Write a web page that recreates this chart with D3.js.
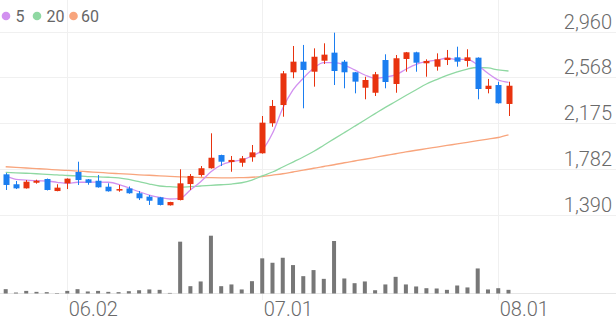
<!DOCTYPE html>
<html>
<head>
<meta charset="utf-8">
<script src="https://cdn.jsdelivr.net/npm/d3@7"></script>
<style>
body { margin: 0; background: #fff; }
text { font-family: Roboto, sans-serif; }
</style>
</head>
<body>
<svg class="chart"></svg>
<script>
var dates = ["05.23","05.26","05.27","05.28","05.29","05.30","06.02","06.04","06.05","06.09",
  "06.10","06.11","06.12","06.13","06.16","06.17","06.18","06.19","06.20","06.23",
  "06.24","06.25","06.26","06.27","06.30","07.01","07.02","07.03","07.04","07.07",
  "07.08","07.09","07.10","07.11","07.14","07.15","07.16","07.17","07.18","07.21",
  "07.22","07.23","07.24","07.25","07.28","07.29","07.30","07.31","08.01","08.04"];

var open = [1738,1653,1618,1666,1698,1595,1661,1758,1695,1683,1632,1604,1617,1576,1547,1541,1473,1518,1655,1732,
  1790,1903,1843,1837,1884,1918,2175,2331,2611,2702,2616,2710,2779,2702,2611,2479,2436,2716,2511,2725,
  2782,2688,2659,2716,2739,2708,2736,2468,2502,2340];
var high = [1749,1681,1689,1692,1702,1653,1704,1846,1698,1732,1661,1647,1634,1595,1561,1545,1503,1781,1741,1809,
  2089,1906,1895,1895,1989,2237,2374,2622,2836,2845,2816,2859,2950,2716,2614,2573,2614,2765,2759,2785,
  2787,2722,2773,2802,2830,2808,2739,2554,2530,2530];
var low = [1604,1612,1616,1658,1600,1593,1612,1647,1649,1624,1590,1589,1572,1518,1476,1472,1471,1515,1604,1718,
  1787,1809,1760,1803,1846,1915,2145,2231,2560,2303,2488,2682,2502,2474,2431,2380,2408,2474,2436,2616,
  2616,2573,2625,2673,2659,2659,2380,2431,2343,2237];
var close = [1647,1618,1675,1683,1604,1624,1701,1689,1666,1627,1593,1612,1576,1533,1512,1476,1501,1661,1724,1790,
  1880,1846,1861,1875,1926,2180,2323,2602,2702,2631,2744,2762,2622,2611,2531,2545,2594,2528,2731,2782,
  2693,2708,2722,2736,2702,2739,2468,2496,2346,2496];
var volume = [45000,10000,27000,17000,14000,5000,27000,45000,21000,27000,17000,14000,24000,34000,42000,38000,6000,538000,76000,125000,
  600000,76000,94000,42000,128000,365000,319000,371000,295000,180000,243000,152000,545000,156000,107000,125000,34000,94000,173000,94000,
  73000,55000,52000,38000,83000,63000,260000,42000,55000,38000];

var ma5 = [1724,1695,1689,1683,1681,1670,1661,1670,1670,1672,1670,1653,1621,1589,1561,1541,1527,1533,1604,1675,
  1760,1818,1846,1861,1895,1946,2089,2303,2460,2560,2645,2693,2693,2673,2631,2588,2560,2571,2588,2637,
  2679,2702,2716,2731,2722,2722,2673,2602,2545,2525];
var ma20 = [1755,1751,1747,1743,1738,1734,1728,1724,1719,1717,1713,1707,1694,1675,1655,1638,1632,1627,1632,1638,
  1644,1649,1655,1666,1689,1724,1758,1801,1843,1886,1933,1987,2041,2095,2149,2203,2257,2311,2361,2412,
  2462,2511,2549,2584,2614,2639,2652,2648,2631,2622];
var ma60 = [1803,1798,1792,1787,1782,1776,1771,1766,1760,1755,1749,1744,1739,1734,1730,1725,1721,1717,1713,1711,
  1709,1708,1708,1710,1713,1719,1731,1743,1758,1773,1790,1805,1820,1837,1852,1867,1883,1899,1914,1930,
  1944,1957,1971,1985,1998,2012,2026,2039,2053,2075];

var yTicks = [1390, 1782, 2175, 2568, 2960];
var xTicks = ["06.02", "07.01", "08.01"];
var legendLabels = ["5", "20", "60"];

var width = 616, height = 321;
var upColor = "#e8330f", downColor = "#1b7ef0";
var maColors = ["#d291f0", "#8fd8a2", "#f8a57d"];

var svg = d3.select(".chart")
    .attr("width", width)
    .attr("height", height);

var x = d3.scalePoint().domain(dates).range([5.7, 508.5]);
var y = d3.scaleLinear().domain([1390, 2960]).range([215, 31.5]);
var yVol = d3.scaleLinear().domain([0, 600000]).range([293.5, 235.7]);

// grid
svg.append("g").selectAll("line")
    .data(yTicks)
  .enter().append("line")
    .attr("x1", 0).attr("x2", width)
    .attr("y1", function(d) { return Math.round(y(d)) + 0.5; })
    .attr("y2", function(d) { return Math.round(y(d)) + 0.5; })
    .attr("stroke", "#f0f0f0");

svg.append("g").selectAll("line")
    .data(xTicks)
  .enter().append("line")
    .attr("x1", function(d) { return Math.round(x(d)) + 0.5; })
    .attr("x2", function(d) { return Math.round(x(d)) + 0.5; })
    .attr("y1", 0).attr("y2", 300)
    .attr("stroke", "#f0f0f0");

svg.append("line")
    .attr("x1", 0).attr("x2", width)
    .attr("y1", 293.5).attr("y2", 293.5)
    .attr("stroke", "#e6e6e6");

// axes
var yAxis = d3.axisLeft(y).tickValues(yTicks).tickSize(0).tickPadding(0).tickFormat(d3.format(","));
var gy = svg.append("g")
    .attr("transform", "translate(612,0)")
    .call(yAxis);
gy.select(".domain").remove();
gy.selectAll("text")
    .attr("dy", "-0.17em")
    .style("font-size", "20px")
    .style("font-family", "Roboto, sans-serif")
    .style("font-weight", 300)
    .attr("fill", "#6a6a6a");

var xAxis = d3.axisBottom(x).tickValues(xTicks).tickSize(0).tickPadding(0);
var gx = svg.append("g")
    .attr("transform", "translate(0,316)")
    .call(xAxis);
gx.select(".domain").remove();
gx.selectAll("text")
    .attr("dy", 0)
    .attr("x", 1)
    .attr("text-anchor", "start")
    .style("font-size", "20px")
    .style("font-family", "Roboto, sans-serif")
    .style("font-weight", 300)
    .attr("fill", "#6a6a6a");

// volume
svg.append("g").selectAll("rect")
    .data(volume)
  .enter().append("rect")
    .attr("x", function(d, i) { return x(dates[i]) - 2; })
    .attr("width", 4)
    .attr("y", function(d) { return yVol(d); })
    .attr("height", function(d) { return yVol(0) - yVol(d); })
    .attr("fill", "#777");

// moving averages
var line = d3.line()
    .x(function(d, i) { return x(dates[i]); })
    .y(function(d) { return y(d); })
    .curve(d3.curveMonotoneX);

[ma60, ma20, ma5].forEach(function(s, k) {
  svg.append("path")
      .datum(s)
      .attr("d", line)
      .attr("fill", "none")
      .attr("stroke", maColors[2 - k])
      .attr("stroke-width", 1.3);
});

// candles
var candle = svg.append("g").selectAll("g")
    .data(dates)
  .enter().append("g");

candle.append("line")
    .attr("x1", function(d) { return Math.round(x(d)) + 0.5; })
    .attr("x2", function(d) { return Math.round(x(d)) + 0.5; })
    .attr("y1", function(d, i) { return y(high[i]); })
    .attr("y2", function(d, i) { return y(low[i]); })
    .attr("stroke", function(d, i) { return close[i] >= open[i] ? upColor : downColor; });

candle.append("rect")
    .attr("x", function(d) { return Math.round(x(d)) - 2.5; })
    .attr("width", 6)
    .attr("y", function(d, i) { return y(Math.max(open[i], close[i])); })
    .attr("height", function(d, i) { return Math.max(1.5, Math.abs(y(open[i]) - y(close[i]))); })
    .attr("fill", function(d, i) { return close[i] >= open[i] ? upColor : downColor; });

// legend
var legend = svg.append("g").selectAll("g")
    .data(legendLabels)
  .enter().append("g")
    .attr("transform", function(d, i) { return "translate(" + [6, 37, 73.5][i] + ",16)"; });

legend.append("circle")
    .attr("r", 4.3)
    .attr("fill", function(d, i) { return maColors[i]; });

legend.append("text")
    .attr("x", function(d, i) { return i == 2 ? 7.5 : 9.5; })
    .attr("y", 5.5)
    .style("font-size", "16px")
    .attr("fill", "#666")
    .text(function(d) { return d; });
</script>
</body>
</html>
